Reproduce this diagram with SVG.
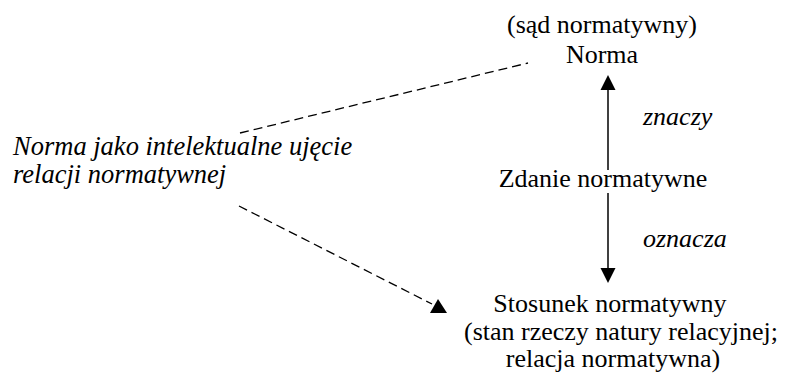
<svg xmlns="http://www.w3.org/2000/svg" width="785" height="376" viewBox="0 0 785 376">
<style>
text{font-family:"Liberation Serif","Times New Roman",Tinos,"DejaVu Serif",serif;font-size:26px;fill:#000}
.c{text-anchor:middle}
.i{font-style:italic}
.l{font-size:26.5px}
.d{stroke:#000;stroke-width:1.3;stroke-dasharray:9 5;fill:none}
.s{stroke:#000;stroke-width:1.5;fill:none}
</style>
<rect width="785" height="376" fill="#fff"/>
<g id="connectors">
<line class="d" x1="240" y1="133" x2="528" y2="63"/>
<line class="d" x1="239" y1="206" x2="432" y2="304"/>
<polygon points="438,299 430,313 447,313" fill="#000"/>
<line class="s" x1="608" y1="89" x2="608" y2="170"/>
<polygon points="608,75 600.5,90 615.5,90" fill="#000"/>
<line class="s" x1="608" y1="193" x2="608" y2="269"/>
<polygon points="608,283 600.5,268 615.5,268" fill="#000"/>
<text class="i" x="643" y="125">znaczy</text>
<text class="i" x="643" y="247">oznacza</text>
</g>
<g id="norma">
<text class="c" x="602" y="33">(sąd normatywny)</text>
<text class="c" x="602" y="63">Norma</text>
</g>
<g id="zdanie">
<text class="c" x="603" y="187">Zdanie normatywne</text>
</g>
<g id="stosunek">
<text class="c" x="610" y="312">Stosunek normatywny</text>
<text class="c" x="621" y="340">(stan rzeczy natury relacyjnej;</text>
<text class="c" x="613" y="367">relacja normatywna)</text>
</g>
<g id="ujecie">
<text class="i l" x="13" y="155">Norma jako intelektualne ujęcie</text>
<text class="i l" x="13" y="183">relacji normatywnej</text>
</g>
</svg>
